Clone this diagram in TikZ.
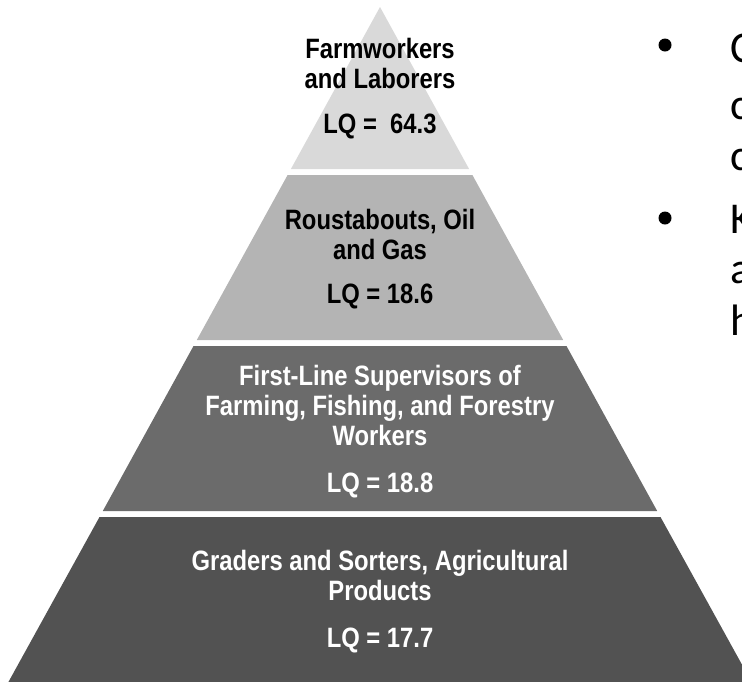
\documentclass[tikz,border=0pt]{standalone}
\usepackage{fontspec}
\setmainfont{Liberation Sans}
\newfontfamily\pyrfont{Liberation Sans}[FakeStretch=0.85]
\newfontfamily\bulletfont{Carlito}
\tikzset{
  lbl/.style={anchor=base, inner sep=0pt, font=\pyrfont\fontsize{28}{30}\selectfont\bfseries},
  dark/.style={lbl, text=black},
  light/.style={lbl, text=white},
  bul/.style={anchor=base west, inner sep=0pt, font=\bulletfont\fontsize{44}{53}\selectfont}
}
\definecolor{lay1}{HTML}{D9D9D9}
\definecolor{lay2}{HTML}{B4B4B4}
\definecolor{lay3}{HTML}{6B6B6B}
\definecolor{lay4}{HTML}{525252}
\begin{document}
\begin{tikzpicture}[x=1pt,y=-1pt]
\useasboundingbox (0,0) rectangle (742,681);
\clip (0,0) rectangle (742,681);
% layers
\fill[lay1] (380,7) -- (469.1,169) -- (290.9,169) -- cycle;
\fill[lay2] (287.6,175) -- (472.4,175) -- (563.2,340) -- (196.8,340) -- cycle;
\fill[lay3] (193.5,346) -- (566.5,346) -- (657.2,511) -- (102.8,511) -- cycle;
\fill[lay4] (99.5,517) -- (660.5,517) -- (756,690) -- (4,690) -- cycle;
% layer 1 text
\node[dark] (a1) at (380,58) {Farmworkers};
\node[dark] (a2) at (380,88) {and Laborers};
\node[dark] (a3) at (380,133) {LQ =\ \ 64.3};
% layer 2 text
\node[dark] (b1) at (380,229) {Roustabouts, Oil};
\node[dark] (b2) at (380,259) {and Gas};
\node[dark] (b3) at (380,303) {LQ = 18.6};
% layer 3 text
\node[light] (c1) at (380,385) {First-Line Supervisors of};
\node[light] (c2) at (380,415) {Farming, Fishing, and Forestry};
\node[light] (c3) at (380,445) {Workers};
\node[light] (c4) at (380,492) {LQ = 18.8};
% layer 4 text
\node[light] (d1) at (380,570) {Graders and Sorters, Agricultural};
\node[light] (d2) at (380,600) {Products};
\node[light] (d3) at (380,647) {LQ = 17.7};
% bullets at right (cut off by the picture's edge)
\fill (665,45) circle (6.5);
\fill (665,218) circle (6.5);
\node[bul] (e1) at (730,62) {C};
\node[bul] (e2) at (730,119) {c};
\node[bul] (e3) at (730,170) {c};
\node[bul] (e4) at (730,233) {K};
\node[bul] (e5) at (730,283) {a};
\node[bul] (e6) at (730,335) {h};
\end{tikzpicture}
\end{document}
